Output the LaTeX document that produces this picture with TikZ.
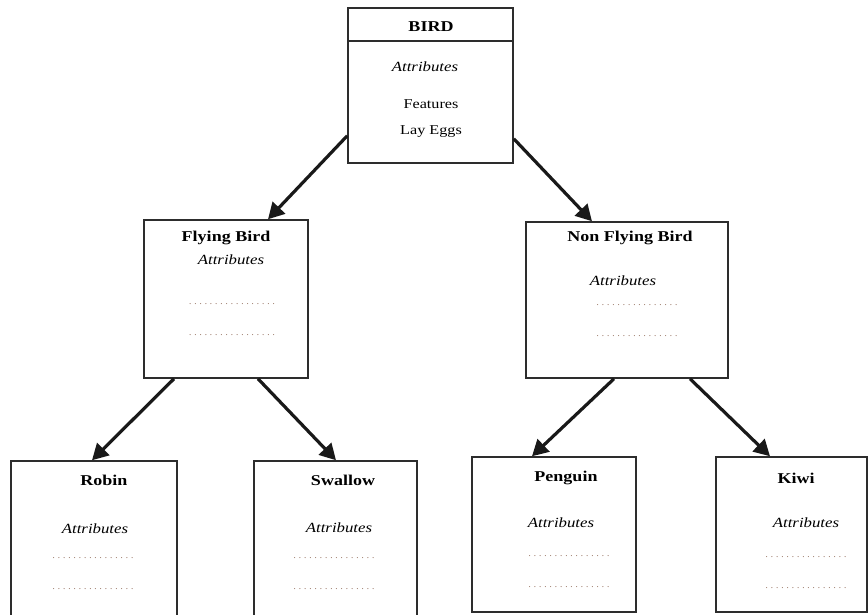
\documentclass[tikz,border=0pt]{standalone}
\usepackage{fontspec}
\setmainfont[FakeStretch=1.2]{Liberation Serif}
\newfontfamily\dotsfont[LetterSpace=33]{Liberation Serif}
\usetikzlibrary{arrows.meta}
\definecolor{boxline}{RGB}{45,45,45}
\definecolor{leader}{RGB}{135,95,75}
\tikzset{
  classbox/.style={draw=boxline, line width=1.5pt, fill=white, inner sep=0pt},
  title/.style={font=\fontsize{15}{17}\selectfont\bfseries, inner sep=0pt},
  attr/.style={font=\fontsize{14}{16}\selectfont\itshape, inner sep=0pt},
  item/.style={font=\fontsize{13.5}{16}\selectfont, inner sep=0pt},
  leaders/.style={font=\fontsize{9}{10}\selectfont\dotsfont, text=leader, inner sep=0pt},
  link/.style={line width=3.2pt, draw=black!90, -{Triangle[length=16pt,width=17pt]}}
}
\begin{document}
\begin{tikzpicture}[x=1pt, y=-1pt]
\useasboundingbox (0,0) rectangle (868,615);

% class boxes
\node[classbox, minimum width=165pt, minimum height=155pt] (bird) at (430.5,85.5) {};
\node[classbox, minimum width=164pt, minimum height=158pt] (fly) at (226,299) {};
\node[classbox, minimum width=202pt, minimum height=156pt] (nonfly) at (627,300) {};
\node[classbox, minimum width=166pt, minimum height=170pt] (robin) at (94,546) {};
\node[classbox, minimum width=163pt, minimum height=170pt] (swallow) at (335.5,546) {};
\node[classbox, minimum width=164pt, minimum height=155pt] (penguin) at (554,534.5) {};
\node[classbox, minimum width=151pt, minimum height=155pt] (kiwi) at (791.5,534.5) {};

% header compartment of the base class
\draw[draw=boxline, line width=1.5pt] ([yshift=-34pt]bird.north west) -- ([yshift=-34pt]bird.north east);

% BIRD
\node[title] (birdT) at (431,27) {BIRD};
\node[attr] (birdA) at (425,67) {Attributes};
\node[item] (birdF) at (431,104) {Features};
\node[item] (birdL) at (431,132) {Lay Eggs};

% Flying Bird
\node[title] (flyT) at (226,238) {Flying Bird};
\node[attr] (flyA) at (231,260) {Attributes};
\node[leaders] (flyD1) at (232,304) {.................};
\node[leaders] (flyD2) at (232,335) {.................};

% Non Flying Bird
\node[title] (nonflyT) at (630,238) {Non Flying Bird};
\node[attr] (nonflyA) at (623,281) {Attributes};
\node[leaders] (nonflyD1) at (637,305) {................};
\node[leaders] (nonflyD2) at (637,336) {................};

% Robin
\node[title] (robinT) at (104,480) {Robin};
\node[attr] (robinA) at (95,529) {Attributes};
\node[leaders] (robinD1) at (93,558) {................};
\node[leaders] (robinD2) at (93,589) {................};

% Swallow
\node[title] (swallowT) at (343,480) {Swallow};
\node[attr] (swallowA) at (339,528) {Attributes};
\node[leaders] (swallowD1) at (334,558) {................};
\node[leaders] (swallowD2) at (334,589) {................};

% Penguin
\node[title] (penguinT) at (566,478) {Penguin};
\node[attr] (penguinA) at (561,523) {Attributes};
\node[leaders] (penguinD1) at (569,556) {................};
\node[leaders] (penguinD2) at (569,587) {................};

% Kiwi
\node[title] (kiwiT) at (796,478) {Kiwi};
\node[attr] (kiwiA) at (806,523) {Attributes};
\node[leaders] (kiwiD1) at (806,557) {................};
\node[leaders] (kiwiD2) at (806,588) {................};

% inheritance links
\draw[link] ([yshift=28pt]bird.south west) -- ([xshift=42pt]fly.north);
\draw[link] ([yshift=25pt]bird.south east) -- ([xshift=-35pt]nonfly.north);
\draw[link] ([xshift=-52pt]fly.south) -- ([xshift=-2pt]robin.north);
\draw[link] ([xshift=32pt]fly.south) -- ([xshift=0.5pt]swallow.north);
\draw[link] ([xshift=-13pt]nonfly.south) -- ([xshift=-22pt]penguin.north);
\draw[link] ([xshift=63pt]nonfly.south) -- ([xshift=-21.5pt]kiwi.north);
\end{tikzpicture}
\end{document}
